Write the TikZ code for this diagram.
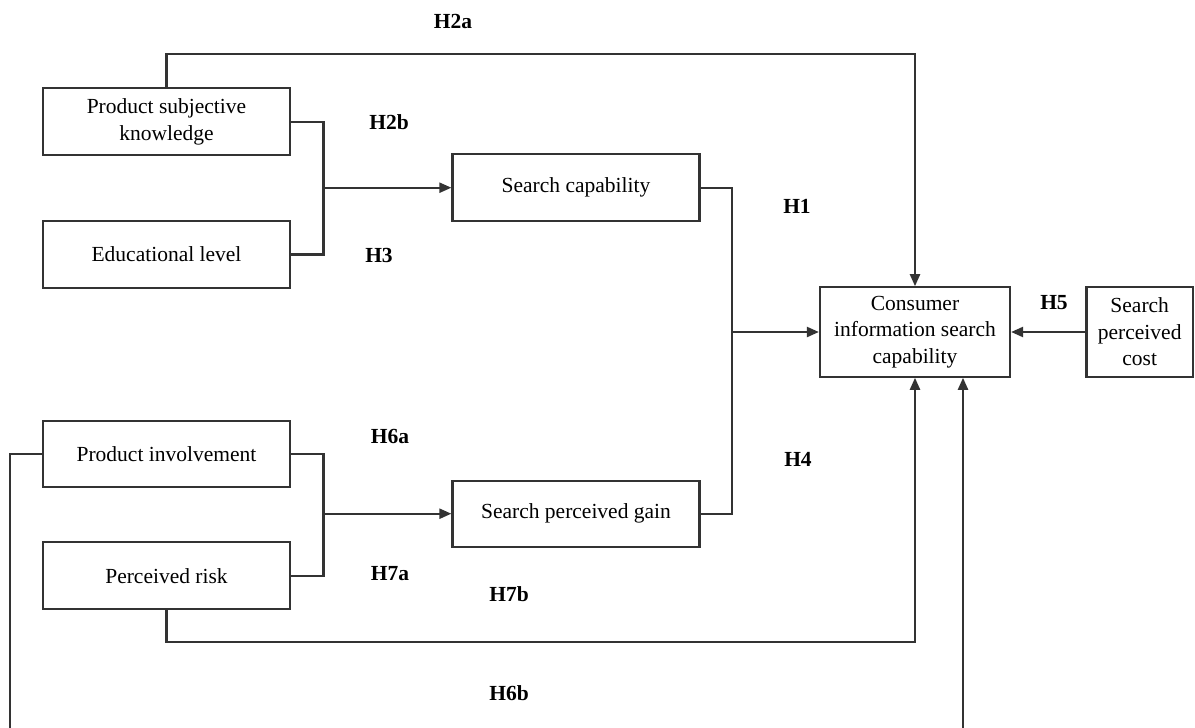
\documentclass[tikz,border=0pt]{standalone}
\usepackage{fontspec}
\setmainfont{Liberation Serif}
\usetikzlibrary{arrows.meta}
\definecolor{linec}{HTML}{333333}
\tikzset{
  box/.style={draw=linec, line width=2.2pt, inner sep=0pt, align=center,
    font=\fontsize{21.5}{26.5}\selectfont, minimum height=66.7pt},
  wide/.style={box, minimum width=247pt},
  conn/.style={draw=linec, line width=2.2pt},
  arr/.style={conn, -{Triangle[length=12pt,width=10pt]}},
  hlab/.style={font=\fontsize{21.5}{26}\selectfont\bfseries, inner sep=0pt}
}
\begin{document}
\begin{tikzpicture}[x=1pt,y=-1pt]
\useasboundingbox (0,0) rectangle (1195,728);
\fill[white] (0,0) rectangle (1195,728);
\clip (0,0) rectangle (1195,728);
% boxes
\node[wide] (psk) at (166.5,121.7) {Product subjective\\knowledge};
\node[wide] (edu) at (166.5,254.4) {Educational level};
\node[wide] (cap) at (576,187.7) {Search capability};
\node[box, minimum width=190pt, minimum height=89.4pt] (cons) at (915,332) {Consumer\\information search\\capability};
\node[box, minimum width=106.5pt, minimum height=89.4pt] (cost) at (1139.7,332) {Search\\perceived\\cost};
\node[wide] (inv) at (166.5,454) {Product involvement};
\node[wide] (risk) at (166.5,575.7) {Perceived risk};
\node[wide, minimum height=66pt] (gain) at (576,513.7) {Search perceived gain};
% junctions
\coordinate (j1) at (323.4,187.7);
\coordinate (j2) at (323.4,513.7);
\coordinate (j3) at (732,332);
\coordinate (top) at (915,54.3);
\coordinate (b1) at (915,642.3);
\coordinate (b2) at (9.6,760);
\coordinate (b3) at (963,760);
% connectors
\draw[arr] (psk.north) |- (top) -- (cons.north);
\draw[conn] (psk.east) -| (j1);
\draw[conn] (edu.east) -| (j1);
\draw[arr] (j1) -- (cap.west);
\draw[conn] (inv.east) -| (j2);
\draw[conn] (risk.east) -| (j2);
\draw[arr] (j2) -- (gain.west);
\draw[conn] (cap.east) -| (j3);
\draw[conn] (gain.east) -| (j3);
\draw[arr] (j3) -- (cons.west);
\draw[arr] (cost.west) -- (cons.east);
\draw[arr] (risk.south) |- (b1) -- (cons.south);
\draw[arr] (inv.west) -| (b2) -- (b3) -- (cons.south -| b3);
% labels
\node[hlab] (h2a) at (453,21) {H2a};
\node[hlab] (h2b) at (389,122) {H2b};
\node[hlab] (h3) at (379,255) {H3};
\node[hlab] (h1) at (797,206) {H1};
\node[hlab] (h5) at (1054,303) {H5};
\node[hlab] (h4) at (798,459) {H4};
\node[hlab] (h6a) at (390,436) {H6a};
\node[hlab] (h7a) at (390,574) {H7a};
\node[hlab] (h7b) at (509,594) {H7b};
\node[hlab] (h6b) at (509,693) {H6b};
\end{tikzpicture}
\end{document}
